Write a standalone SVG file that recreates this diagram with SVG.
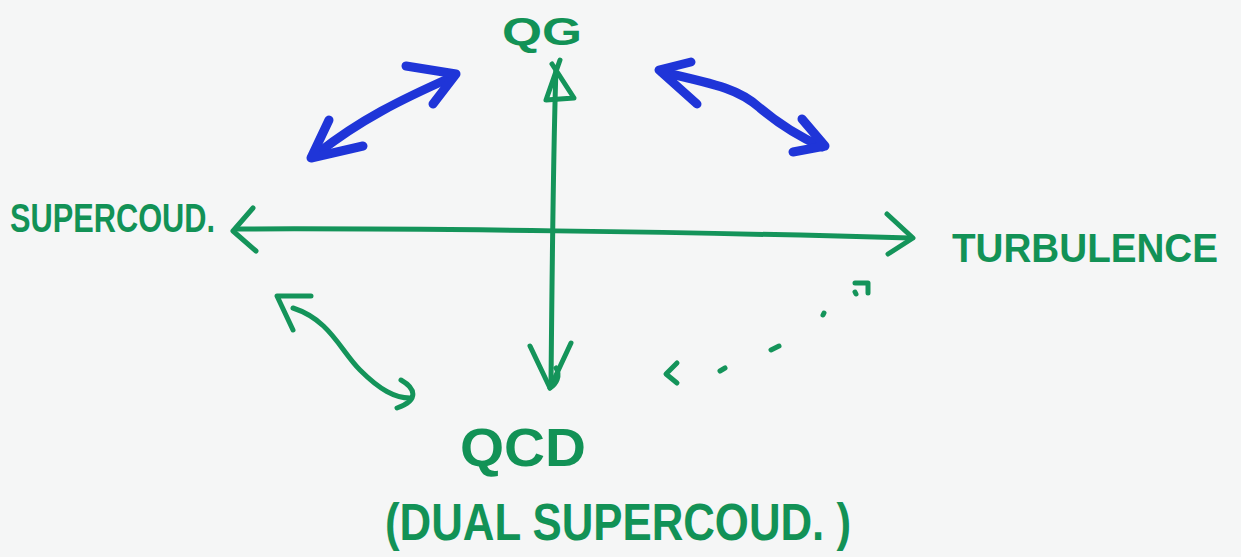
<svg xmlns="http://www.w3.org/2000/svg" width="1241" height="557" viewBox="0 0 1241 557">
<style>
.g{fill:none;stroke:#14945a;stroke-width:5;stroke-linecap:round;stroke-linejoin:round}
.b{fill:none;stroke:#1f35d8;stroke-width:9;stroke-linecap:round;stroke-linejoin:round}
.t{fill:#129256;font-family:"Liberation Sans",Arial,sans-serif;font-weight:bold}
</style>
<rect width="1241" height="557" fill="#f5f6f6"/>
<g id="connectors">
  <!-- horizontal axis -->
  <path class="g" d="M236,229 C400,228 700,232 910,238"/>
  <path class="g" d="M253,208 L233,231 L256,251"/>
  <path class="g" d="M887,214 L913,238 L888,254"/>
  <!-- vertical axis -->
  <path class="g" d="M556,68 C553,160 552,280 551,385"/>
  <path class="g" d="M560,60 L546,100 L574,98 L552,64"/>
  <path class="g" d="M530,346 L550,388 L571,343"/>
  <path class="g" d="M550,388 C556,384 561,376 556,368"/>
  <!-- blue upper-left -->
  <path class="b" d="M318,153 C360,120 400,100 452,77"/>
  <path class="b" d="M406,66 L456,74 L433,104"/>
  <path class="b" d="M329,120 L311,158 L363,146"/>
  <!-- blue upper-right -->
  <path class="b" d="M662,72 C720,85 740,90 760,108 C780,125 800,137 822,147"/>
  <path class="b" d="M691,62 L659,70 L697,104"/>
  <path class="b" d="M802,119 L825,146 L793,152"/>
  <!-- green lower-left -->
  <path class="g" d="M293,308 C330,320 340,350 360,370 C380,390 395,398 410,398"/>
  <path class="g" d="M311,296 L277,296 L293,330"/>
  <path class="g" d="M401,380 C415,388 420,400 397,408"/>
  <!-- dotted arrow -->
  <path class="g" d="M855,283 L868,283 L868,293"/>
  <path class="g" d="M855,292 L856,294"/>
  <path class="g" d="M823,315 L824,313"/>
  <path class="g" d="M771,350 L779,346"/>
  <path class="g" d="M720,371 L725,368"/>
  <path class="g" d="M677,363 L666,374 L677,383"/>
</g>
<g id="qg"><text class="t" x="542" y="45" font-size="38" text-anchor="middle" textLength="80" lengthAdjust="spacingAndGlyphs">QG</text></g>
<g id="supercoud"><text class="t" x="10" y="232" font-size="40" textLength="205" lengthAdjust="spacingAndGlyphs">SUPERCOUD.</text></g>
<g id="turbulence"><text class="t" x="952" y="262" font-size="40" textLength="266" lengthAdjust="spacingAndGlyphs">TURBULENCE</text></g>
<g id="qcd"><text class="t" x="460" y="466" font-size="54" textLength="126" lengthAdjust="spacingAndGlyphs">QCD</text></g>
<g id="dual"><text class="t" x="385" y="540" font-size="52" textLength="466" lengthAdjust="spacingAndGlyphs">(DUAL SUPERCOUD. )</text></g>
</svg>
